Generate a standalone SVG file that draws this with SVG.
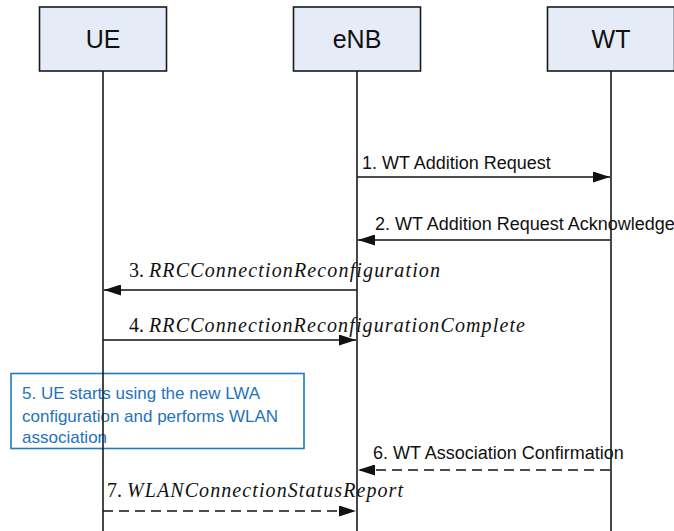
<svg xmlns="http://www.w3.org/2000/svg" width="674" height="531" viewBox="0 0 674 531">
<style>
.box{fill:#E6ECF7;stroke:#1a1a1a;stroke-width:1.6}
.life{stroke:#1a1a1a;stroke-width:1.6;fill:none}
.nlbl{font-family:"Liberation Sans",Arial,sans-serif;font-size:25px;fill:#111;text-anchor:middle}
.msg{stroke:#111;stroke-width:1.4;fill:none}
.dash{stroke-dasharray:10 6}
.lbl{font-family:"Liberation Sans",Arial,sans-serif;font-size:18px;fill:#111}
.it{font-family:"Liberation Serif","Times New Roman",serif;font-size:20px;fill:#111}
.it tspan.i{font-style:italic}
.note{fill:#fff;stroke:#1F7BC2;stroke-width:1.6}
.ntxt{font-family:"Liberation Sans",Arial,sans-serif;font-size:17px;fill:#1F73BC}
</style>
<defs>
<marker id="ah" viewBox="0 0 17 11" refX="17" refY="5.5" markerWidth="17" markerHeight="11" markerUnits="userSpaceOnUse" orient="auto">
<path d="M0,0 L17,5.5 L0,11 z" fill="#111"/>
</marker>
</defs>
<rect width="674" height="531" fill="#fff"/>
<g id="connectors">
<line class="msg" x1="357" y1="177" x2="610" y2="177" marker-end="url(#ah)"/>
<text class="lbl" x="362" y="169">1. WT Addition Request</text>
<line class="msg" x1="610" y1="240" x2="358" y2="240" marker-end="url(#ah)"/>
<text class="lbl" x="375" y="230">2. WT Addition Request Acknowledge</text>
<line class="msg" x1="357" y1="290" x2="104" y2="290" marker-end="url(#ah)"/>
<text class="it" x="129" y="277">3. <tspan class="i" textLength="291" lengthAdjust="spacing">RRCConnectionReconfiguration</tspan></text>
<line class="msg" x1="103" y1="340" x2="356" y2="340" marker-end="url(#ah)"/>
<text class="it" x="129" y="332">4. <tspan class="i" textLength="376" lengthAdjust="spacing">RRCConnectionReconfigurationComplete</tspan></text>
<line class="msg dash" x1="610" y1="470" x2="358" y2="470" marker-end="url(#ah)"/>
<text class="lbl" x="373" y="459">6. WT Association Confirmation</text>
<line class="msg dash" x1="103" y1="511" x2="356" y2="511" marker-end="url(#ah)"/>
<text class="it" x="107" y="497">7. <tspan class="i" textLength="276" lengthAdjust="spacing">WLANConnectionStatusReport</tspan></text>
</g>
<g id="note5">
<rect class="note" x="11" y="373.5" width="293" height="75"/>
<text class="ntxt" x="22" y="399">5. UE starts using the new LWA</text>
<text class="ntxt" x="22" y="421.5">configuration and performs WLAN</text>
<text class="ntxt" x="22" y="443">association</text>
</g>
<g id="UE">
<rect class="box" x="39.5" y="7" width="127" height="64"/>
<text class="nlbl" x="103" y="48">UE</text>
<line class="life" x1="103" y1="71" x2="103" y2="531"/>
</g>
<g id="eNB">
<rect class="box" x="293.5" y="7" width="127" height="64"/>
<text class="nlbl" x="357" y="48">eNB</text>
<line class="life" x1="357" y1="71" x2="357" y2="531"/>
</g>
<g id="WT">
<rect class="box" x="547.5" y="7" width="127" height="64"/>
<text class="nlbl" x="611" y="48">WT</text>
<line class="life" x1="611" y1="71" x2="611" y2="531"/>
</g>
</svg>
